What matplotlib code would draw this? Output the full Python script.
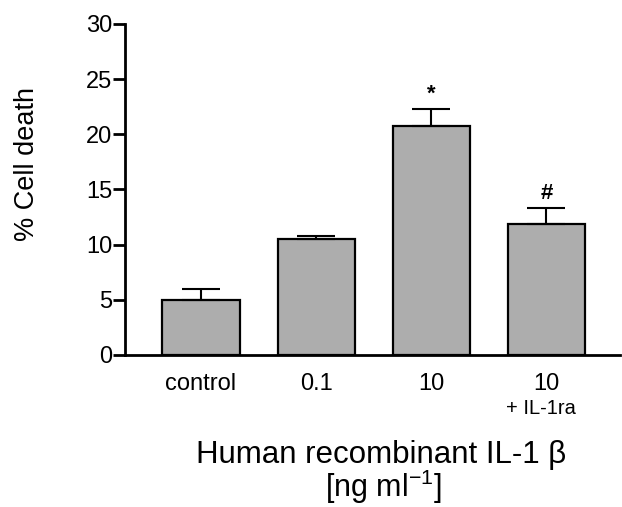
import matplotlib.pyplot as plt

plt.rcParams['font.family'] = ['Liberation Sans', 'DejaVu Sans']
plt.rcParams['mathtext.default'] = 'regular'

categories = ["control", "0.1", "10", "10"]
sublabels = ["", "", "", "+ IL-1ra"]
means = [5.0, 10.5, 20.7, 11.9]
errors = [1.0, 0.3, 1.6, 1.4]
marks = ["", "", "*", "#"]

fig = plt.figure(figsize=(6.22, 5.07), dpi=100)
ax = fig.add_axes([0.201, 0.300, 0.796, 0.653])

x = list(range(len(means)))
ax.bar(x, means, width=0.67, color="#adadad", edgecolor="black", linewidth=1.6, zorder=2)
ax.errorbar(x, means, yerr=[[0] * len(errors), errors], fmt="none", ecolor="black",
            elinewidth=1.5, capsize=14, capthick=1.5, zorder=3)

for xi, m, e, s in zip(x, means, errors, marks):
    if s:
        ax.text(xi, m + e + 0.4, s, ha="center", va="bottom", fontsize=16, fontweight="bold")

ax.set_xlim(-0.66, 3.64)
ax.set_ylim(0, 30)
ax.set_yticks([0, 5, 10, 15, 20, 25, 30])
ax.set_xticks(x)
ax.set_xticklabels(categories, fontsize=17)
ax.tick_params(axis="x", length=0, pad=13)
ax.tick_params(axis="y", length=9, width=2, labelsize=17, pad=0)

# second line under the last category
for xi, s in zip(x, sublabels):
    if s:
        ax.text(xi - 0.05, -4.9, s, ha="center", va="center", fontsize=14.5)

ax.spines["top"].set_visible(False)
ax.spines["right"].set_visible(False)
ax.spines["left"].set_linewidth(2)
ax.spines["bottom"].set_linewidth(2)

fig.text(27 / 622, 1 - 164 / 507, "% Cell death", rotation=90, ha="center", va="center",
         fontsize=19.5)
fig.text(381 / 622, 1 - 463 / 507, "Human recombinant IL-1 β", ha="center", va="baseline",
         fontsize=22.5)
fig.text(383 / 622, 1 - 497 / 507, "[ng ml$^{-1}$]", ha="center", va="baseline", fontsize=22)

fig.savefig("out.png", dpi=100)
